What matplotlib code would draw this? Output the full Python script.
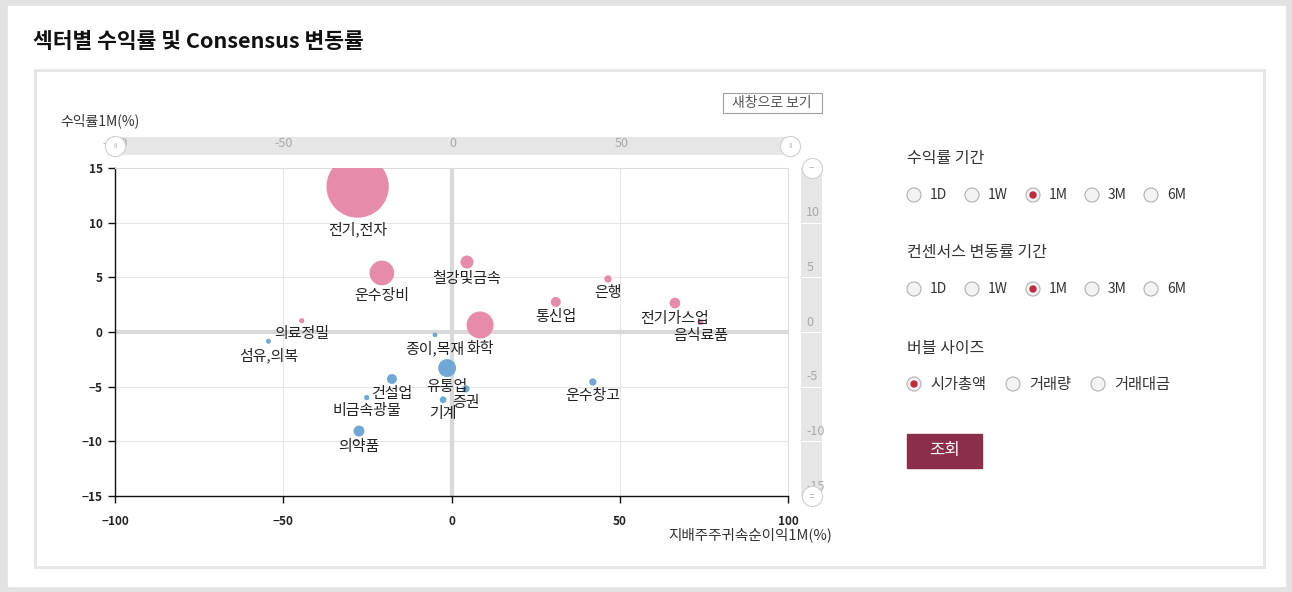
import numpy as np
import matplotlib.pyplot as plt
from matplotlib.patches import Rectangle, Circle

plt.rcParams['font.family'] = ['Noto Sans CJK KR', 'DejaVu Sans']

# sector data (1M)
sectors = ['전기,전자', '운수장비', '철강및금속', '은행', '통신업', '전기가스업', '음식료품', '화학',
           '의료정밀', '섬유,의복', '종이,목재', '유통업', '건설업', '증권', '기계', '비금속광물',
           '의약품', '운수창고']
earn_1m = [-27.9, -20.7, 4.6, 46.5, 31.0, 66.4, 74.0, 8.5,
           -44.5, -54.4, -4.9, -1.3, -17.7, 4.3, -2.5, -25.2,
           -27.5, 42.0]
ret_1m = [13.3, 5.4, 6.4, 4.85, 2.75, 2.65, 0.9, 0.64,
          1.03, -0.85, -0.27, -3.3, -4.3, -5.2, -6.2, -6.0,
          -9.06, -4.57]
mktcap = [388, 61, 17, 5.3, 10, 11.4, 3.6, 73,
          2.8, 2.5, 2.2, 32, 10, 5.3, 4.5, 2.8,
          12, 5.3]

xticks = [-100, -50, 0, 50, 100]
yticks = [-15, -10, -5, 0, 5, 10, 15]
nav_xticks = [-100, -50, 0, 50]
nav_yticks = [10, 5, 0, -5, -10, -15]
periods = ['1D', '1W', '1M', '3M', '6M']
size_opts = ['시가총액', '거래량', '거래대금']

W, H = 1292, 592
PINK = '#e78bab'
BLUE = '#6fa8d7'
GRID = '#e6e6e6'


def px(x0, y0, x1, y1):
    return [x0 / W, 1 - y1 / H, (x1 - x0) / W, (y1 - y0) / H]


fig = plt.figure(figsize=(W / 100, H / 100), dpi=100)

# page background / frames
bg = fig.add_axes([0, 0, 1, 1])
bg.set_xlim(0, W)
bg.set_ylim(H, 0)
bg.axis('off')
bg.add_patch(Rectangle((0, 0), W, H, color='#e2e2e2'))
bg.add_patch(Rectangle((8, 6), 1277, 580, color='white'))
bg.add_patch(Rectangle((34.5, 69.5), 1229, 497, facecolor='white', edgecolor='#e6e6e6', lw=2.2))
bg.text(33, 42, '섹터별 수익률 및 Consensus 변동률', fontsize=15.5, fontweight='bold',
        color='#111', va='center', ha='left')

# 새창으로 보기 button
bg.add_patch(Rectangle((722.5, 92.5), 99, 20, facecolor='white', edgecolor='#a0a0a0', lw=0.8))
bg.text(772, 102.5, '새창으로 보기', fontsize=10, color='#555', ha='center', va='center')

# axis titles
bg.text(60, 121, '수익률1M(%)', fontsize=10, color='#333', ha='left', va='center')
bg.text(668, 535, '지배주주귀속순이익1M(%)', fontsize=10.5, color='#333', ha='left', va='center')

# right option panel
def radio(x, y, label, on):
    bg.add_patch(Circle((x, y), 7, facecolor='#f3f3f3', edgecolor='#b0b0b0', lw=0.8))
    if on:
        bg.add_patch(Circle((x, y), 3, color='#c42a3f'))
    bg.text(x + 16, y, label, fontsize=11 if label in size_opts else 10, color='#333',
            ha='left', va='center')


bg.text(907, 158, '수익률 기간', fontsize=11.5, color='#333', va='center')
for xx, p in zip([914, 972, 1033, 1092, 1151], periods):
    radio(xx, 195, p, p == '1M')
bg.text(907, 253, '컨센서스 변동률 기간', fontsize=11.5, color='#333', va='center')
for xx, p in zip([914, 972, 1033, 1092, 1151], periods):
    radio(xx, 289, p, p == '1M')
bg.text(907, 348, '버블 사이즈', fontsize=11.5, color='#333', va='center')
for xx, p in zip([914, 1013, 1098], size_opts):
    radio(xx, 384, p, p == '시가총액')
bg.add_patch(Rectangle((907, 434), 75, 34, color='#8b2e4a'))
bg.text(944.5, 450, '조회', fontsize=12, color='white', ha='center', va='center')

# main bubble chart
ax = fig.add_axes(px(115, 168, 788, 496))
ax.set_xlim(-100, 100)
ax.set_ylim(-15, 15)
ax.set_xticks(xticks)
ax.set_yticks(yticks)
for v in [-50, 50]:
    ax.axvline(v, color=GRID, lw=0.75, zorder=0)
for v in [-10, -5, 5, 10]:
    ax.axhline(v, color=GRID, lw=0.75, zorder=0)
ax.axvline(0, color='#d9d9d9', lw=3, zorder=1)
ax.axhline(0, color='#d9d9d9', lw=3, zorder=1)
for s in ['top', 'right']:
    ax.spines[s].set_color('#dcdcdc')
    ax.spines[s].set_linewidth(0.8)
for s in ['left', 'bottom']:
    ax.spines[s].set_color('#111')
    ax.spines[s].set_linewidth(1.0)
ax.tick_params(length=5, width=1, color='#111', labelsize=8.5, labelcolor='#222', pad=4)
for t in ax.get_xticklabels() + ax.get_yticklabels():
    t.set_fontweight('bold')
ax.tick_params(axis='x', pad=9)

sizes = np.array(mktcap) * 5.18
colors = [PINK if r >= 0 else BLUE for r in ret_1m]
ax.scatter(earn_1m, ret_1m, s=sizes, c=colors, linewidths=0, zorder=3)
for name, x, y, s in zip(sectors, earn_1m, ret_1m, sizes):
    r = np.sqrt(s) / 2
    ax.annotate(name, (x, y), xytext=(0, -(r + 2.5)), textcoords='offset points',
                ha='center', va='top', fontsize=10.8, color='#222', zorder=4)

# top navigator (x range)
nx = fig.add_axes(px(115, 137, 790, 155))
nx.set_facecolor('#e6e6e6')
nx.set_xlim(-100, 100)
nx.set_ylim(0, 1)
nx.set_xticks([])
nx.set_yticks([])
for s in nx.spines.values():
    s.set_visible(False)
for v in nav_xticks:
    nx.text(v, 0.62, str(v), fontsize=9, color='#a8a8a8', ha='center', va='center', zorder=1)
nx.scatter([-100, 100], [0.5, 0.5], s=210, facecolor='white', edgecolor='#d0d0d0',
           linewidths=0.8, zorder=5, clip_on=False)
for v in [-100, 100]:
    nx.text(v, 0.5, 'II', fontsize=5, color='#aaaaaa', ha='center', va='center', zorder=6,
            clip_on=False)

# right navigator (y range)
ny = fig.add_axes(px(801, 168, 822, 496))
ny.set_facecolor('#e6e6e6')
ny.set_xlim(0, 1)
ny.set_ylim(-15, 15)
ny.set_xticks([])
ny.set_yticks([])
for s in ny.spines.values():
    s.set_visible(False)
for v in nav_yticks:
    ny.axhline(v, color='white', lw=0.8, zorder=1)
    ny.text(0.25, v + 0.3, str(v), fontsize=9, color='#a8a8a8', ha='left', va='bottom',
            zorder=2, clip_on=False)
ny.scatter([0.5, 0.5], [15, -15], s=210, facecolor='white', edgecolor='#d0d0d0',
           linewidths=0.8, zorder=5, clip_on=False)
for v, g in [(15, '−'), (-15, '=')]:
    ny.text(0.5, v, g, fontsize=7, color='#aaaaaa', ha='center', va='center', zorder=6,
            clip_on=False)

fig.savefig('out.png', dpi=100)
